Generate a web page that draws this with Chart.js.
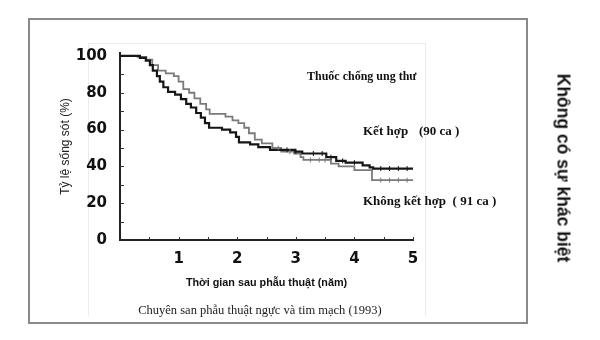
<!DOCTYPE html>
<html>
<head>
<meta charset="utf-8">
<script src="https://cdn.jsdelivr.net/npm/chart.js@4.4.1/dist/chart.umd.min.js"></script>
<style>
  html, body { margin: 0; padding: 0; background: #fff; }
  #wrap { position: relative; width: 600px; height: 340px; overflow: hidden; }
  #frame { position: absolute; left: 28px; top: 18px; width: 500px; height: 306px; box-sizing: border-box; border: 2px solid #8a8a8a; }
  .faint { position: absolute; background: #ececec; }
  canvas { position: absolute; left: 0; top: 0; }
  .note { position: absolute; white-space: nowrap; color: #111; font-family: "Liberation Serif", "Times New Roman", serif; font-weight: bold; font-size: 13px; line-height: 1; transform: translateY(-50%); }
  #side { position: absolute; left: 563px; top: 168px; transform: translate(-50%, -50%) rotate(90deg); white-space: nowrap; font-family: "Liberation Sans", Arial, sans-serif; font-weight: bold; font-size: 17.5px; color: #111; }
  #cite { position: absolute; left: 260px; top: 310px; transform: translate(-50%, -50%); white-space: nowrap; font-family: "Liberation Serif", "Times New Roman", serif; font-size: 12.5px; color: #222; }
</style>
</head>
<body>
<div id="wrap">
  <div id="frame"></div>
  <div class="faint" style="left:88px;top:43px;width:1px;height:273px;"></div>
  <div class="faint" style="left:425px;top:43px;width:1px;height:273px;"></div>
  <div class="faint" style="left:88px;top:43px;width:337px;height:1px;"></div>
  <canvas id="c" width="600" height="340"></canvas>
  <div class="note" style="left:307px;top:76px;font-size:12px;">Thuốc chống ung thư</div>
  <div class="note" style="left:363px;top:130px;">Kết hợp</div>
  <div class="note" style="left:419px;top:130px;">(90 ca )</div>
  <div class="note" style="left:363px;top:200px;">Không kết hợp&nbsp;&nbsp;( 91 ca )</div>
  <div id="side">Không có sự khác biệt</div>
  <div id="cite">Chuyên san phẫu thuật ngực và tim mạch (1993)</div>
</div>
<script>
// ---- data ----
const timeKetHop = [0, 0.34, 0.44, 0.51, 0.56, 0.63, 0.68, 0.74, 0.82, 0.94, 1.04, 1.13, 1.21, 1.30, 1.38, 1.45, 1.52, 1.74, 1.88, 1.98, 2.03, 2.22, 2.36, 2.56, 2.99, 3.11, 3.52, 3.69, 3.85, 4.14, 4.26, 4.32, 5.0];
const survKetHop = [100, 99, 97.5, 95, 92, 89, 86, 83, 80.5, 79, 76.5, 74, 72, 69, 66.5, 63.5, 61, 60, 58.5, 56, 53, 52, 50.5, 49, 48, 47, 45, 43, 42, 40.5, 39.5, 38.8, 38.8];
const timeKhongKetHop = [0, 0.3, 0.45, 0.55, 0.65, 0.78, 0.92, 1.0, 1.08, 1.18, 1.27, 1.37, 1.47, 1.53, 1.8, 1.92, 2.02, 2.12, 2.2, 2.3, 2.42, 2.6, 2.75, 2.97, 3.08, 3.13, 3.6, 3.73, 4.0, 4.3, 5.0];
const survKhongKetHop = [100, 99.5, 98, 95, 92, 90.5, 89, 86, 82, 80, 77, 74, 71, 68.5, 67, 65, 63.5, 61, 58, 54.5, 52.5, 50, 48, 47, 45, 43.5, 41.5, 40, 38, 32.5, 32.5];
const censorKetHop = [2.85, 3.0, 3.3, 3.45, 3.6, 3.8, 4.0, 4.45, 4.6, 4.75, 4.9];
const censorKhongKetHop = [2.7, 2.9, 3.25, 3.4, 3.5, 4.45, 4.6, 4.75, 4.9];
const yTickValues = [0, 20, 40, 60, 80, 100];
const xTickValues = [1, 2, 3, 4, 5];
const yMinorTicks = [10, 20, 30, 40, 50, 60, 70, 80, 90];
const xMinorTicks = [0.5, 1, 1.5, 2, 2.5, 3, 3.5, 4, 4.5, 5];
const yTitle = 'Tỷ lệ sống sót (%)';
const xTitle = 'Thời gian sau phẫu thuật (năm)';

function toPoints(t, s) { return t.map((x, i) => ({ x: x, y: s[i] })); }
function valueAt(t, s, x) { let v = s[0]; for (let i = 0; i < t.length; i++) { if (t[i] <= x) v = s[i]; } return v; }
function censorPoints(c, t, s) { return c.map(x => ({ x: x, y: valueAt(t, s, x) })); }

const minorTicksPlugin = {
  id: 'minorTicks',
  afterDraw(chart) {
    const ctx = chart.ctx, xs = chart.scales.x, ys = chart.scales.y, a = chart.chartArea;
    ctx.save();
    ctx.strokeStyle = '#333';
    ctx.lineWidth = 1;
    ctx.beginPath();
    yMinorTicks.forEach(v => { const y = Math.round(ys.getPixelForValue(v)) + 0.5; ctx.moveTo(a.left, y); ctx.lineTo(a.left + 4, y); });
    xMinorTicks.forEach(v => { const x = Math.round(xs.getPixelForValue(v)) + 0.5; ctx.moveTo(x, a.bottom); ctx.lineTo(x, a.bottom - 3); });
    ctx.stroke();
    ctx.restore();
  }
};

new Chart(document.getElementById('c'), {
  type: 'line',
  data: {
    datasets: [
      { label: 'Kết hợp (90 ca)', data: toPoints(timeKetHop, survKetHop), stepped: true, borderColor: '#161616', borderWidth: 2.2, pointRadius: 0, fill: false, order: 1 },
      { label: 'Không kết hợp (91 ca)', data: toPoints(timeKhongKetHop, survKhongKetHop), stepped: true, borderColor: '#7a7a7a', borderWidth: 1.8, pointRadius: 0, fill: false, order: 2 },
      { type: 'scatter', label: 'censor A', data: censorPoints(censorKetHop, timeKetHop, survKetHop), pointStyle: 'line', rotation: 90, radius: 2.5, borderColor: '#161616', borderWidth: 1, showLine: false },
      { type: 'scatter', label: 'censor B', data: censorPoints(censorKhongKetHop, timeKhongKetHop, survKhongKetHop), pointStyle: 'line', rotation: 90, radius: 2.5, borderColor: '#7a7a7a', borderWidth: 1, showLine: false }
    ]
  },
  options: {
    responsive: false,
    animation: false,
    events: [],
    layout: { padding: { left: 0, top: 53, right: 187, bottom: 0 } },
    plugins: { legend: { display: false }, tooltip: { enabled: false } },
    scales: {
      x: {
        type: 'linear', min: 0, max: 5,
        afterBuildTicks: s => { s.ticks = xTickValues.map(v => ({ value: v })); },
        afterFit: s => { s.height = 100; },
        grid: { display: true, drawOnChartArea: false, drawTicks: false },
        border: { display: true, color: '#222', width: 2 },
        ticks: { padding: 10, color: '#111', font: { family: 'DejaVu Sans', weight: 'bold', size: 15 } },
        title: { display: true, text: xTitle, color: '#111', font: { family: 'Liberation Sans', weight: 'bold', size: 10.8 }, padding: { top: 0, bottom: 50 } }
      },
      y: {
        type: 'linear', min: 0, max: 101.6,
        afterBuildTicks: s => { s.ticks = yTickValues.map(v => ({ value: v })); },
        afterFit: s => { s.width = 120; },
        grid: { display: true, drawOnChartArea: false, drawTicks: false },
        border: { display: true, color: '#222', width: 2 },
        ticks: { padding: 13, color: '#111', font: { family: 'DejaVu Sans', weight: 'bold', size: 15 } },
        title: { display: true, text: yTitle, color: '#222', font: { family: 'Liberation Sans', size: 12 }, padding: { top: 58, bottom: 0 } }
      }
    }
  },
  plugins: [minorTicksPlugin]
});
</script>
</body>
</html>
